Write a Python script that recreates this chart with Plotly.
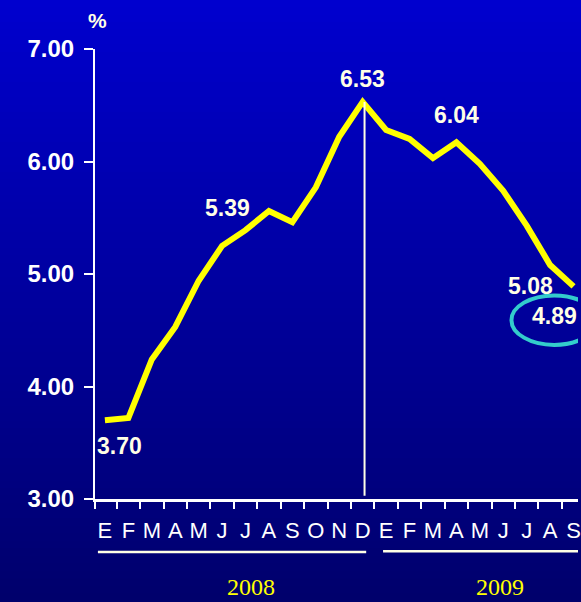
import plotly.graph_objects as go

months = ["E", "F", "M", "A", "M", "J", "J", "A", "S", "O", "N", "D",
          "E", "F", "M", "A", "M", "J", "J", "A", "S"]
rates = [3.70, 3.72, 4.24, 4.53, 4.94, 5.25, 5.39, 5.56, 5.46, 5.77, 6.22, 6.53,
         6.28, 6.20, 6.03, 6.17, 5.98, 5.74, 5.43, 5.08, 4.89]
label_idx = [0, 6, 11, 15, 19, 20]
label_text = ["3.70", "5.39", "6.53", "6.04", "5.08", "4.89"]
label_shift = [(15, -26), (-18, 22), (0, 23), (0, 27), (-20, -21), (-19, -30)]
years = ["2008", "2009"]
y_ticks = [3, 4, 5, 6, 7]

x = list(range(len(months)))
cream = "#FFFFE6"

fig = go.Figure()
fig.add_trace(go.Scatter(x=x, y=rates, mode="lines",
                         line=dict(color="#FFFF00", width=6),
                         hoverinfo="skip", showlegend=False))

shapes = []
# vertical background gradient
n = 80
top = (0, 0, 206)
bot = (0, 0, 108)
y_lo, y_hi = -103 / 450, 1 + 49 / 450
for i in range(n):
    t = i / (n - 1)
    c = tuple(round(top[k] + (bot[k] - top[k]) * t) for k in range(3))
    y1 = y_hi - (y_hi - y_lo) * i / n
    y0 = y_hi - (y_hi - y_lo) * (i + 1) / n
    shapes.append(dict(type="rect", xref="paper", yref="paper",
                       x0=-0.25, x1=1.02, y0=y0 - 0.002, y1=y1 + 0.002,
                       fillcolor="rgb(%d,%d,%d)" % c, line=dict(width=0),
                       layer="below"))

# vertical line at peak (Dec 2008)
peak_i = rates.index(max(rates))
shapes.append(dict(type="line", xref="x", yref="y", x0=peak_i + 0.08, x1=peak_i + 0.08,
                   y0=3.03, y1=rates[peak_i], line=dict(color=cream, width=2)))
# year underlines
shapes.append(dict(type="line", xref="x", yref="paper", x0=-0.3, x1=11.15,
                   y0=-0.118, y1=-0.118, line=dict(color=cream, width=2.5)))
shapes.append(dict(type="line", xref="x", yref="paper", x0=11.87, x1=20.2,
                   y0=-0.116, y1=-0.116, line=dict(color=cream, width=2.5)))
# cyan ellipse around last value
shapes.append(dict(type="circle", xref="x", yref="y", x0=17.35, x1=21.0,
                   y0=4.37, y1=4.81, line=dict(color="#33CCCC", width=4)))

annotations = []
for i, t, (dx, dy) in zip(label_idx, label_text, label_shift):
    annotations.append(dict(x=i, y=rates[i], text="<b>%s</b>" % t, showarrow=False,
                            xshift=dx, yshift=dy, xanchor="center", yanchor="middle",
                            font=dict(family="Arial", size=23, color=cream)))
for yr, xc in zip(years, [6.23, 16.84]):
    annotations.append(dict(x=xc, y=-0.196, xref="x", yref="paper", text=yr,
                            showarrow=False, xanchor="center", yanchor="middle",
                            font=dict(family="Liberation Serif", size=24, color="#FFFF00")))
annotations.append(dict(x=0.006, y=1.064, xref="paper", yref="paper", text="<b>%</b>",
                        showarrow=False, xanchor="center", yanchor="middle",
                        font=dict(family="Arial", size=21, color=cream)))

fig.update_layout(
    width=581, height=602,
    margin=dict(l=95, r=0, t=49, b=103),
    paper_bgcolor="#0000A0",
    plot_bgcolor="rgba(0,0,0,0)",
    shapes=shapes,
    annotations=annotations,
    showlegend=False,
    xaxis=dict(range=[-0.424, 20.19], showgrid=False, zeroline=False,
               showline=True, linecolor="white", linewidth=2.5,
               tickvals=x, ticktext=months, ticks="", ticklabelstandoff=10,
               ticklabeloverflow="allow",
               tickfont=dict(family="Arial", size=22, color="white"),
               minor=dict(tickvals=[-0.42] + [i + 0.5 for i in range(20)],
                          ticks="outside", ticklen=7, tickcolor="white", tickwidth=2),
               fixedrange=True),
    yaxis=dict(range=[3, 7], showgrid=False, zeroline=False,
               showline=True, linecolor="white", linewidth=2,
               tickvals=y_ticks, tickformat=".2f", ticks="outside",
               ticklen=9, tickwidth=2, tickcolor="white",
               ticklabelstandoff=5,
               tickfont=dict(family="Arial", size=24, color="white", weight="bold"),
               fixedrange=True),
)
fig.write_html("out.html", config={"displayModeBar": False},
               post_script="document.body.style.margin='0';document.body.style.overflow='hidden';")
